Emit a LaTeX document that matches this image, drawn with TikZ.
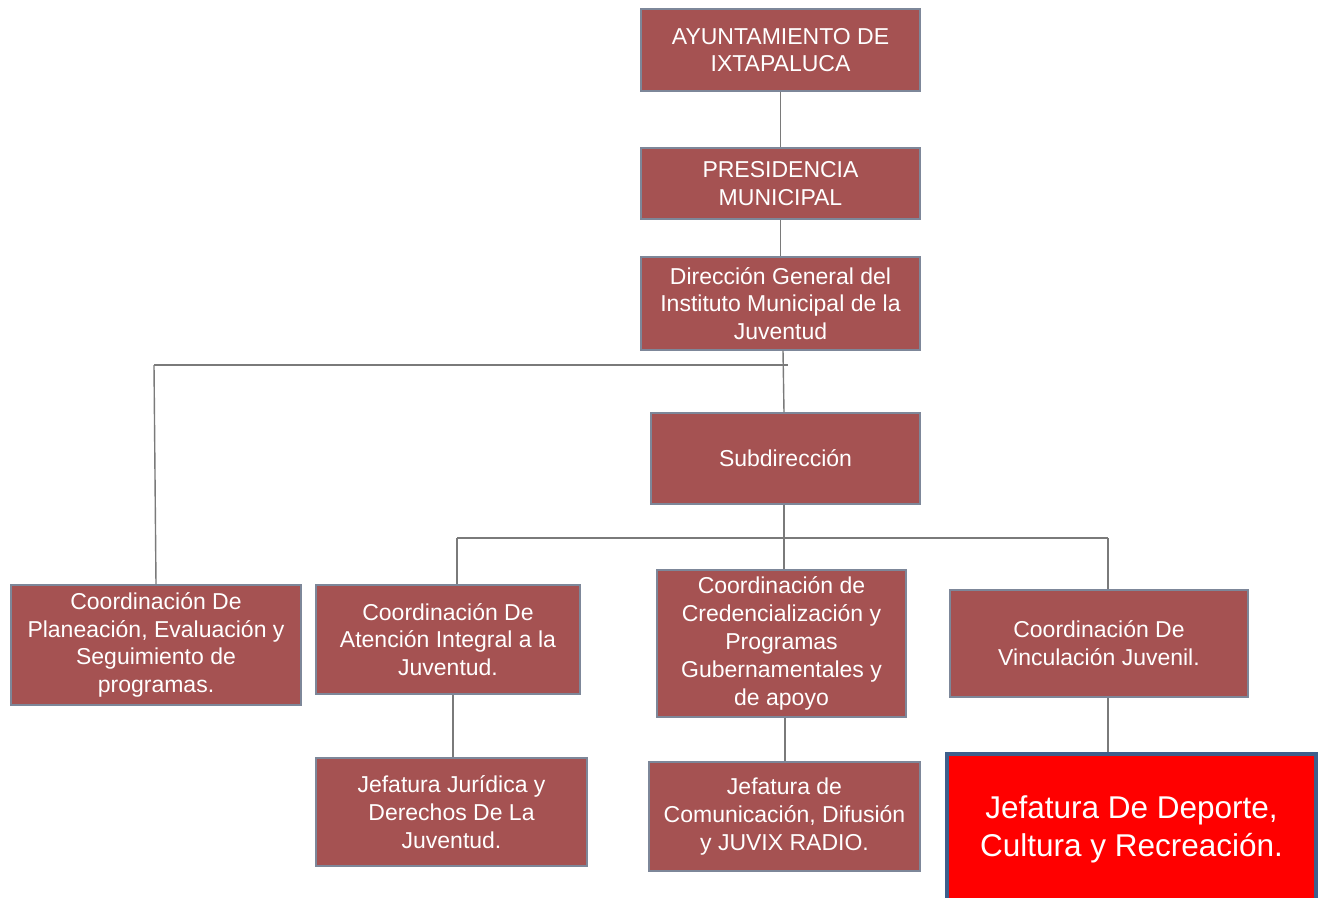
\documentclass[tikz,border=0pt]{standalone}
\usepackage{fontspec}
\setmainfont{Liberation Sans}
\definecolor{boxred}{HTML}{A55252}
\definecolor{boxedge}{HTML}{7D8799}
\definecolor{alert}{HTML}{FF0000}
\definecolor{alertedge}{HTML}{3E5F8C}
\definecolor{wire}{HTML}{7A7A7A}

\begin{document}
\begin{tikzpicture}[x=1pt,y=-1pt,
  unit/.style={draw=boxedge,line width=1.2pt,fill=boxred,text=white,align=center,
    inner sep=0pt,font=\fontsize{23}{27.8}\selectfont},
  hilite/.style={draw=alertedge,line width=4pt,fill=alert,text=white,align=center,
    inner sep=0pt,font=\fontsize{31.5}{38}\selectfont},
  link/.style={wire,line width=1.4pt}]
  \useasboundingbox (0,0) rectangle (1319,897);
  % top chain
  \node[unit,minimum width=279,minimum height=82] (ayto) at (780.5,50) {AYUNTAMIENTO DE\\IXTAPALUCA};
  \node[unit,minimum width=279,minimum height=71] (pres) at (780.5,183.5) {PRESIDENCIA\\MUNICIPAL};
  \node[unit,minimum width=279,minimum height=93] (dir) at (780.5,303.5) {Dirección General del\\Instituto Municipal de la\\Juventud};
  \node[unit,minimum width=269,minimum height=91] (sub) at (785.5,458.5) {Subdirección};
  % coordinaciones
  \node[unit,minimum width=290,minimum height=120] (plan) at (156,645) {Coordinación De\\Planeación, Evaluación y\\Seguimiento de\\programas.};
  \node[unit,minimum width=264,minimum height=109] (aten) at (448,639.5) {Coordinación De\\Atención Integral a la\\Juventud.};
  \node[unit,minimum width=249,minimum height=147] (cred) at (781.5,643.5) {Coordinación de\\Credencialización y\\Programas\\Gubernamentales y\\de apoyo};
  \node[unit,minimum width=298,minimum height=107] (vinc) at (1099,643.5) {Coordinación De\\Vinculación Juvenil.};
  % jefaturas
  \node[unit,minimum width=271,minimum height=108] (jur) at (451.5,812) {Jefatura Jurídica y\\Derechos De La\\Juventud.};
  \node[unit,minimum width=271,minimum height=109] (com) at (784.5,816.5) {Jefatura de\\Comunicación, Difusión\\y JUVIX RADIO.};
  \node[hilite,minimum width=369,minimum height=151] (dep) at (1131.5,829.5) {Jefatura De Deporte,\\Cultura y Recreación.};
  % connectors
  \coordinate (busA) at (788,365);
  \coordinate (busAl) at (154,365);
  \coordinate (busB) at (784,538);
  \coordinate (busBl) at (457,538);
  \coordinate (busBr) at (1108,538);
  \draw[link] (ayto.south) -- (pres.north);
  \draw[link] (pres.south) -- (dir.south |- pres.south) -- (dir.north);
  \draw[link] (dir.south) ++(2.5,0) -- (sub.north -| busB);
  \draw[link] (busAl) -- (busA);
  \draw[link] (busAl) -- (plan.north);
  \draw[link] (sub.south -| busB) -- (busB);
  \draw[link] (busBl) -- (busBr);
  \draw[link] (busBl) -- (busBl |- aten.north);
  \draw[link] (busB) -- (busB |- cred.north);
  \draw[link] (busBr) -- (busBr |- vinc.north);
  \draw[link] (aten.south -| 453,0) -- (jur.north -| 453,0);
  \draw[link] (cred.south -| 785,0) -- (com.north -| 785,0);
  \draw[link] (vinc.south -| busBr) -- (dep.north -| busBr);
\end{tikzpicture}
\end{document}
